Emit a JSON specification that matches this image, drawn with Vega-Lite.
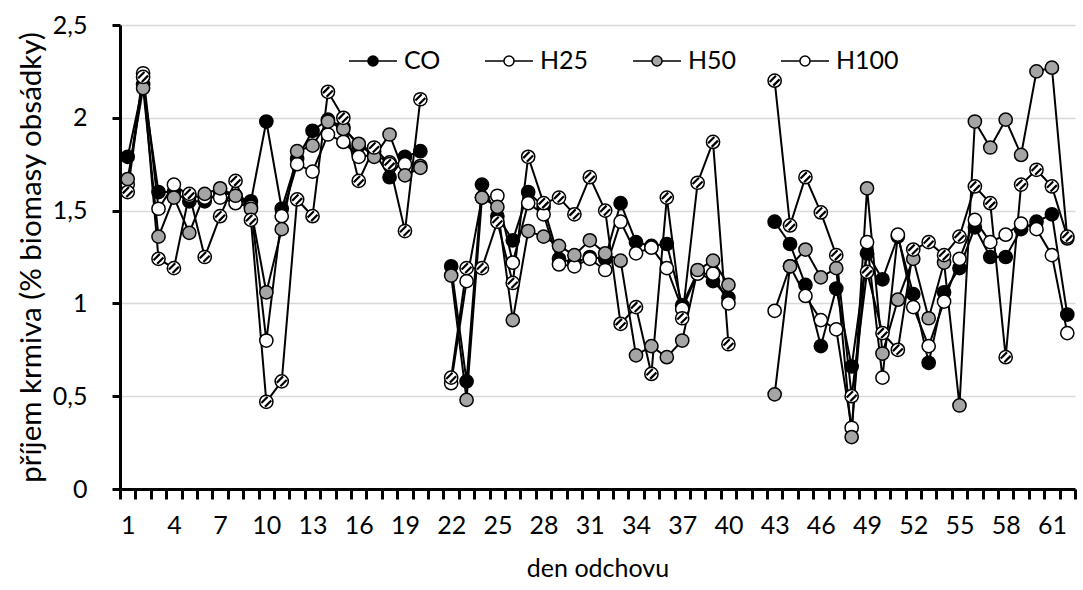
{
  "$schema": "https://vega.github.io/schema/vega-lite/v6.json",
  "autosize": {"type": "none"},
  "padding": {"left": 120, "top": 25, "right": 8, "bottom": 101},
  "width": 955,
  "height": 464,
  "background": "white",
  "config": {"view": {"stroke": null}, "font": "Lato"},
  "data": {"values": [
    {"day": 1, "seg": 1, "CO": 1.79, "H25": 1.64, "H50": 1.67, "H100": 1.60},
    {"day": 2, "seg": 1, "CO": 2.18, "H25": 2.24, "H50": 2.16, "H100": 2.22},
    {"day": 3, "seg": 1, "CO": 1.60, "H25": 1.51, "H50": 1.36, "H100": 1.24},
    {"day": 4, "seg": 1, "CO": 1.60, "H25": 1.64, "H50": 1.57, "H100": 1.19},
    {"day": 5, "seg": 1, "CO": 1.55, "H25": 1.58, "H50": 1.38, "H100": 1.59},
    {"day": 6, "seg": 1, "CO": 1.55, "H25": 1.57, "H50": 1.59, "H100": 1.25},
    {"day": 7, "seg": 1, "CO": 1.60, "H25": 1.57, "H50": 1.62, "H100": 1.47},
    {"day": 8, "seg": 1, "CO": 1.58, "H25": 1.54, "H50": 1.58, "H100": 1.66},
    {"day": 9, "seg": 1, "CO": 1.55, "H25": 1.52, "H50": 1.51, "H100": 1.45},
    {"day": 10, "seg": 1, "CO": 1.98, "H25": 0.80, "H50": 1.06, "H100": 0.47},
    {"day": 11, "seg": 1, "CO": 1.51, "H25": 1.47, "H50": 1.40, "H100": 0.58},
    {"day": 12, "seg": 1, "CO": 1.78, "H25": 1.75, "H50": 1.82, "H100": 1.56},
    {"day": 13, "seg": 1, "CO": 1.93, "H25": 1.71, "H50": 1.85, "H100": 1.47},
    {"day": 14, "seg": 1, "CO": 1.99, "H25": 1.91, "H50": 1.98, "H100": 2.14},
    {"day": 15, "seg": 1, "CO": 1.95, "H25": 1.87, "H50": 1.94, "H100": 2.00},
    {"day": 16, "seg": 1, "CO": 1.85, "H25": 1.79, "H50": 1.86, "H100": 1.66},
    {"day": 17, "seg": 1, "CO": 1.82, "H25": 1.80, "H50": 1.79, "H100": 1.84},
    {"day": 18, "seg": 1, "CO": 1.68, "H25": 1.76, "H50": 1.91, "H100": 1.75},
    {"day": 19, "seg": 1, "CO": 1.79, "H25": 1.75, "H50": 1.69, "H100": 1.39},
    {"day": 20, "seg": 1, "CO": 1.82, "H25": 1.74, "H50": 1.73, "H100": 2.10},
    {"day": 22, "seg": 2, "CO": 1.20, "H25": 0.57, "H50": 1.15, "H100": 0.60},
    {"day": 23, "seg": 2, "CO": 0.58, "H25": 1.12, "H50": 0.48, "H100": 1.19},
    {"day": 24, "seg": 2, "CO": 1.64, "H25": 1.57, "H50": 1.57, "H100": 1.19},
    {"day": 25, "seg": 2, "CO": 1.47, "H25": 1.58, "H50": 1.52, "H100": 1.44},
    {"day": 26, "seg": 2, "CO": 1.34, "H25": 1.22, "H50": 0.91, "H100": 1.11},
    {"day": 27, "seg": 2, "CO": 1.60, "H25": 1.54, "H50": 1.39, "H100": 1.79},
    {"day": 28, "seg": 2, "CO": 1.52, "H25": 1.48, "H50": 1.36, "H100": 1.54},
    {"day": 29, "seg": 2, "CO": 1.24, "H25": 1.21, "H50": 1.31, "H100": 1.57},
    {"day": 30, "seg": 2, "CO": 1.22, "H25": 1.20, "H50": 1.26, "H100": 1.48},
    {"day": 31, "seg": 2, "CO": 1.25, "H25": 1.24, "H50": 1.34, "H100": 1.68},
    {"day": 32, "seg": 2, "CO": 1.24, "H25": 1.18, "H50": 1.27, "H100": 1.50},
    {"day": 33, "seg": 2, "CO": 1.54, "H25": 1.44, "H50": 1.23, "H100": 0.89},
    {"day": 34, "seg": 2, "CO": 1.33, "H25": 1.27, "H50": 0.72, "H100": 0.98},
    {"day": 35, "seg": 2, "CO": 1.31, "H25": 1.30, "H50": 0.77, "H100": 0.62},
    {"day": 36, "seg": 2, "CO": 1.32, "H25": 1.19, "H50": 0.71, "H100": 1.57},
    {"day": 37, "seg": 2, "CO": 0.99, "H25": 0.97, "H50": 0.80, "H100": 0.92},
    {"day": 38, "seg": 2, "CO": 1.17, "H25": 1.16, "H50": 1.18, "H100": 1.65},
    {"day": 39, "seg": 2, "CO": 1.12, "H25": 1.16, "H50": 1.23, "H100": 1.87},
    {"day": 40, "seg": 2, "CO": 1.03, "H25": 1.00, "H50": 1.10, "H100": 0.78},
    {"day": 43, "seg": 3, "CO": 1.44, "H25": 0.96, "H50": 0.51, "H100": 2.20},
    {"day": 44, "seg": 3, "CO": 1.32, "H25": 1.20, "H50": 1.20, "H100": 1.42},
    {"day": 45, "seg": 3, "CO": 1.10, "H25": 1.04, "H50": 1.29, "H100": 1.68},
    {"day": 46, "seg": 3, "CO": 0.77, "H25": 0.91, "H50": 1.14, "H100": 1.49},
    {"day": 47, "seg": 3, "CO": 1.08, "H25": 0.86, "H50": 1.19, "H100": 1.26},
    {"day": 48, "seg": 3, "CO": 0.66, "H25": 0.33, "H50": 0.28, "H100": 0.50},
    {"day": 49, "seg": 3, "CO": 1.27, "H25": 1.33, "H50": 1.62, "H100": 1.17},
    {"day": 50, "seg": 3, "CO": 1.13, "H25": 0.60, "H50": 0.73, "H100": 0.84},
    {"day": 51, "seg": 3, "CO": 1.36, "H25": 1.37, "H50": 1.02, "H100": 0.75},
    {"day": 52, "seg": 3, "CO": 1.05, "H25": 0.98, "H50": 1.24, "H100": 1.29},
    {"day": 53, "seg": 3, "CO": 0.68, "H25": 0.77, "H50": 0.92, "H100": 1.33},
    {"day": 54, "seg": 3, "CO": 1.06, "H25": 1.01, "H50": 1.22, "H100": 1.26},
    {"day": 55, "seg": 3, "CO": 1.19, "H25": 1.24, "H50": 0.45, "H100": 1.36},
    {"day": 56, "seg": 3, "CO": 1.41, "H25": 1.45, "H50": 1.98, "H100": 1.63},
    {"day": 57, "seg": 3, "CO": 1.25, "H25": 1.33, "H50": 1.84, "H100": 1.54},
    {"day": 58, "seg": 3, "CO": 1.25, "H25": 1.37, "H50": 1.99, "H100": 0.71},
    {"day": 59, "seg": 3, "CO": 1.40, "H25": 1.43, "H50": 1.80, "H100": 1.64},
    {"day": 60, "seg": 3, "CO": 1.44, "H25": 1.40, "H50": 2.25, "H100": 1.72},
    {"day": 61, "seg": 3, "CO": 1.48, "H25": 1.26, "H50": 2.27, "H100": 1.63},
    {"day": 62, "seg": 3, "CO": 0.94, "H25": 0.84, "H50": 1.35, "H100": 1.36}
  ]},
  "transform": [{"fold": ["CO", "H25", "H50", "H100"], "as": ["series", "value"]}],
  "encoding": {
    "x": {
      "field": "day", "type": "quantitative",
      "scale": {"domain": [0.5, 62.5], "nice": false, "zero": false},
      "axis": {
        "values": [0.5,1.5,2.5,3.5,4.5,5.5,6.5,7.5,8.5,9.5,10.5,11.5,12.5,13.5,14.5,15.5,16.5,17.5,18.5,19.5,20.5,21.5,22.5,23.5,24.5,25.5,26.5,27.5,28.5,29.5,30.5,31.5,32.5,33.5,34.5,35.5,36.5,37.5,38.5,39.5,40.5,41.5,42.5,43.5,44.5,45.5,46.5,47.5,48.5,49.5,50.5,51.5,52.5,53.5,54.5,55.5,56.5,57.5,58.5,59.5,60.5,61.5,62.5],
        "labelExpr": "(datum.value + 0.5) % 3 == 1 ? toString(datum.value + 0.5) : ''",
        "labelOffset": 7.7,
        "labelOverlap": false, "labelBound": false, "labelFlush": false,
        "labelFont": "Lato", "labelFontSize": 25, "labelColor": "black", "labelPadding": 14,
        "tickSize": 10, "tickWidth": 3, "tickColor": "black",
        "domainColor": "black", "domainWidth": 3,
        "grid": false,
        "title": "den odchovu", "titleFont": "Lato", "titleFontSize": 25, "titleFontWeight": "normal", "titleColor": "black", "titlePadding": 18
      }
    },
    "y": {
      "field": "value", "type": "quantitative",
      "scale": {"domain": [0, 2.5], "nice": false, "zero": true},
      "axis": {
        "values": [0, 0.5, 1, 1.5, 2, 2.5],
        "labelExpr": "replace(toString(datum.value), '.', ',')",
        "labelFont": "Lato", "labelFontSize": 25, "labelColor": "black", "labelPadding": 25,
        "tickSize": 8, "tickWidth": 3, "tickColor": "black",
        "domainColor": "black", "domainWidth": 3,
        "grid": true, "gridColor": "#d9d9d9", "gridWidth": 1.5,
        "title": "příjem krmiva (% biomasy obsádky)", "titleFont": "Lato", "titleFontSize": 29.5, "titleFontWeight": "normal", "titleColor": "black", "titlePadding": 6
      }
    }
  },
  "layer": [
    {
      "mark": {"type": "line", "color": "black", "strokeWidth": 2},
      "encoding": {"detail": [{"field": "series"}, {"field": "seg"}]}
    },
    {
      "mark": {"type": "point", "filled": true, "stroke": "black", "strokeWidth": 1.5, "size": 175, "opacity": 1, "shape": "circle"},
      "encoding": {
        "fill": {
          "field": "series", "type": "nominal",
          "scale": {"domain": ["CO", "H25", "H50", "H100"], "range": ["black", "white", "#a5a5a5", "white"]},
          "legend": {
            "title": null, "orient": "none", "legendX": 228, "legendY": 11, "direction": "horizontal",
            "symbolType": "M-1,0H-0.21M0.21,0H1M-0.21,0A0.21,0.21 0 1,0 0.21,0A0.21,0.21 0 1,0 -0.21,0Z",
            "symbolSize": 2304, "symbolStrokeColor": "black", "symbolStrokeWidth": 1.5,
            "labelFont": "Lato", "labelFontSize": 25, "labelColor": "black", "labelOffset": 6,
            "columnPadding": 41, "padding": 0,
            "encode": {"symbols": {
              "enter": {
                "shape": {"signal": "datum.value === 'H100' ? 'M-1,0H-0.21M0.21,0H1M-0.21,0A0.21,0.21 0 1,0 0.21,0A0.21,0.21 0 1,0 -0.21,0ZM-0.19,0.06L0.06,-0.19M-0.06,0.19L0.19,-0.06' : 'M-1,0H-0.21M0.21,0H1M-0.21,0A0.21,0.21 0 1,0 0.21,0A0.21,0.21 0 1,0 -0.21,0Z'"}
              },
              "update": {
                "shape": {"signal": "datum.value === 'H100' ? 'M-1,0H-0.21M0.21,0H1M-0.21,0A0.21,0.21 0 1,0 0.21,0A0.21,0.21 0 1,0 -0.21,0ZM-0.19,0.06L0.06,-0.19M-0.06,0.19L0.19,-0.06' : 'M-1,0H-0.21M0.21,0H1M-0.21,0A0.21,0.21 0 1,0 0.21,0A0.21,0.21 0 1,0 -0.21,0Z'"},
                "stroke": {"value": "black"}, "strokeWidth": {"value": 1.5}, "opacity": {"value": 1}
              }
            }}
          }
        }
      }
    },
    {
      "transform": [{"filter": "datum.series === 'H100'"}],
      "mark": {"type": "point", "filled": false, "stroke": "black", "strokeWidth": 2.2, "size": 175, "opacity": 1,
               "shape": "M-0.75,0.2L0.2,-0.75M-0.2,0.75L0.75,-0.2"}
    }
  ]
}
